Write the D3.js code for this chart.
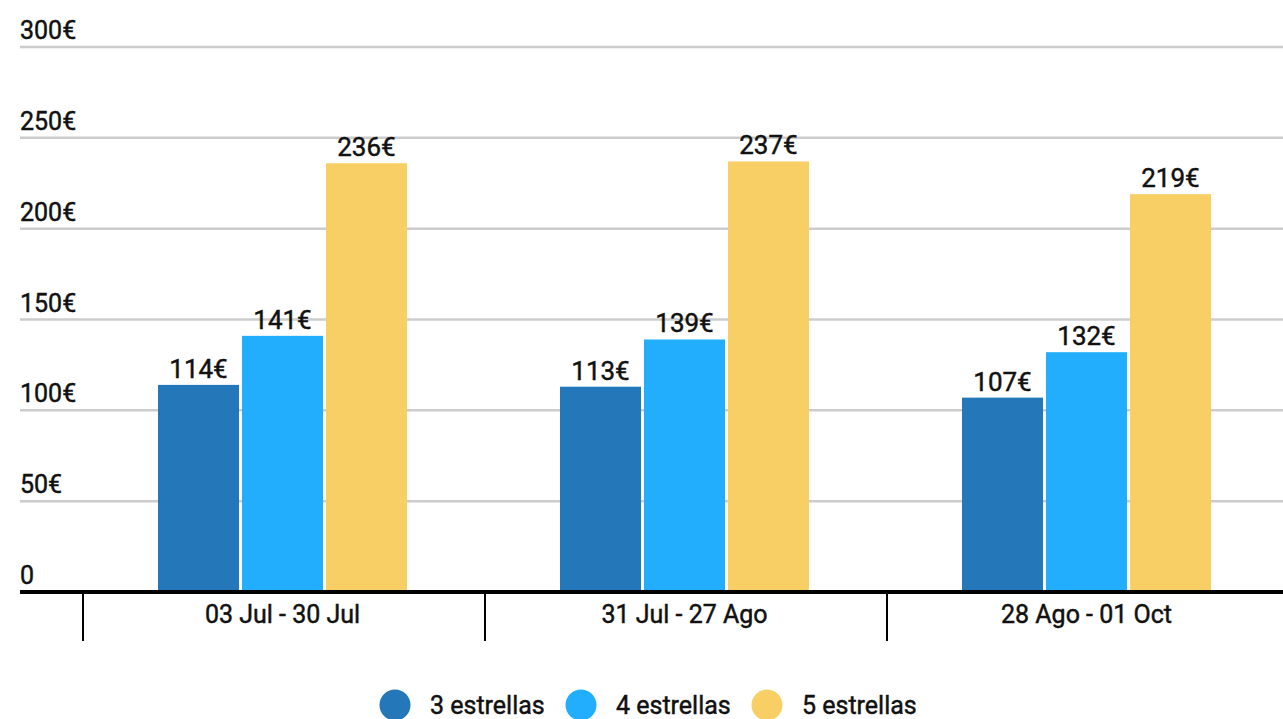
<!DOCTYPE html>
<html><head><meta charset="utf-8">
<script src="https://cdn.jsdelivr.net/npm/d3@7"></script>
<style>body{margin:0;background:#fff;}svg{display:block;font-family:Roboto,sans-serif;}
text{stroke:#111;stroke-width:0.45px;}</style>
</head><body>
<svg id="c" width="1283" height="719"></svg>
<script>
const categories = ["03 Jul - 30 Jul", "31 Jul - 27 Ago", "28 Ago - 01 Oct"];
const seriesNames = ["3 estrellas", "4 estrellas", "5 estrellas"];
const stars3 = [114, 113, 107];
const stars4 = [141, 139, 132];
const stars5 = [236, 237, 219];
const yTicks = [0, 50, 100, 150, 200, 250, 300];
const colors = ["#2477b9", "#22aefc", "#f8cf64"];

const series = [stars3, stars4, stars5];
const svg = d3.select("#c");
const y = d3.scaleLinear().domain([0, 300]).range([592, 47]);
const x0 = d3.scaleBand().domain(categories).range([83, 1289]).paddingInner(0).paddingOuter(0);
const x1 = d3.scaleBand().domain(seriesNames).range([0, 249]).paddingInner(0.035);
const groupOffset = (x0.bandwidth() - 249) / 2 - 1.5;

// gridlines
svg.append("g").selectAll("line").data(yTicks.filter(d => d > 0)).join("line")
  .attr("x1", 20).attr("x2", 1283).attr("y1", d => y(d)).attr("y2", d => y(d))
  .attr("stroke", "#cccccc").attr("stroke-width", 2.5);
svg.append("g").selectAll("text").data(yTicks).join("text")
  .attr("x", 20).attr("y", d => y(d) - 8)
  .attr("font-size", 25).attr("fill", "#111")
  .text(d => d === 0 ? "0" : d + "€");

// bars
const groups = svg.append("g").selectAll("g").data(categories).join("g")
  .attr("transform", c => `translate(${x0(c) + groupOffset},0)`);
groups.each(function(c, i) {
  const g = d3.select(this);
  seriesNames.forEach((s, j) => {
    const v = series[j][i];
    g.append("rect").attr("x", x1(s)).attr("width", x1.bandwidth())
      .attr("y", y(v)).attr("height", y(0) - y(v)).attr("fill", colors[j]);
    g.append("text").attr("x", x1(s) + x1.bandwidth() / 2).attr("y", y(v) - 7)
      .attr("text-anchor", "middle").attr("font-size", 26)
      .attr("fill", "#111").text(v + "€");
  });
});

// x axis
svg.append("line").attr("x1", 20).attr("x2", 1283).attr("y1", y(0)).attr("y2", y(0))
  .attr("stroke", "#000").attr("stroke-width", 4);
svg.append("g").selectAll("line").data(categories).join("line")
  .attr("x1", c => x0(c)).attr("x2", c => x0(c)).attr("y1", y(0)).attr("y2", 641)
  .attr("stroke", "#000").attr("stroke-width", 2);
svg.append("g").selectAll("text").data(categories).join("text")
  .attr("x", c => x0(c) + x0.bandwidth() / 2 - 1.5).attr("y", 623)
  .attr("text-anchor", "middle").attr("font-size", 25)
  .attr("fill", "#111").text(c => c);

// legend
const legX = [395, 581, 767];
const leg = svg.append("g").selectAll("g").data(seriesNames).join("g")
  .attr("transform", (d, i) => `translate(${legX[i]},705)`);
leg.append("circle").attr("r", 15.5).attr("fill", (d, i) => colors[i]);
leg.append("text").attr("x", 35).attr("y", 9).attr("font-size", 25)
  .attr("fill", "#111").text(d => d);
</script>
</body></html>
